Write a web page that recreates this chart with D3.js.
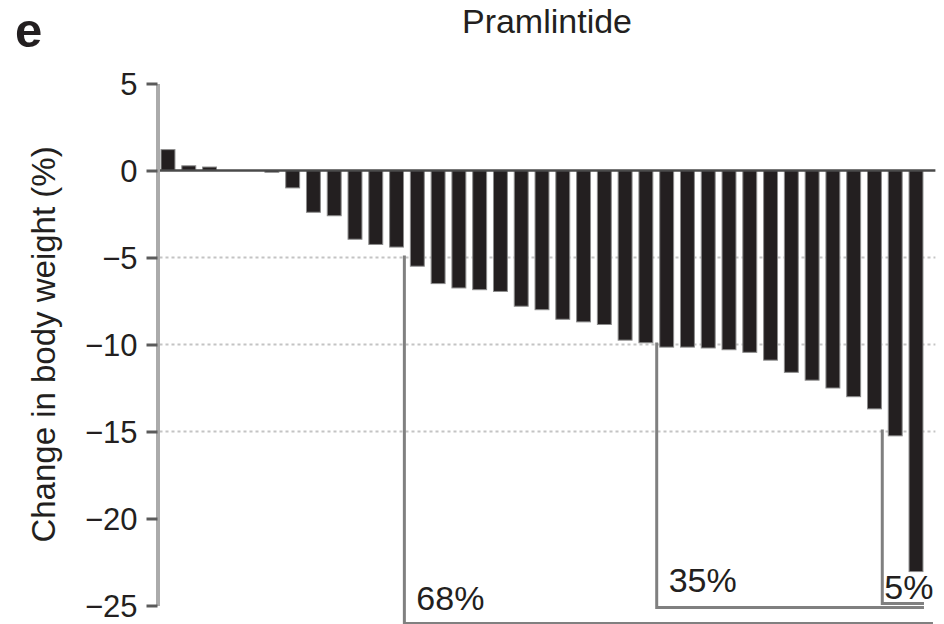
<!DOCTYPE html>
<html>
<head>
<meta charset="utf-8">
<script src="https://cdn.jsdelivr.net/npm/d3@7"></script>
<style>
  html, body { margin: 0; padding: 0; background: #fff; }
  svg { display: block; }
  text { font-family: "Liberation Sans", Arial, Helvetica, sans-serif; fill: #231f20; }
</style>
</head>
<body>
<svg id="chart" width="944" height="624"></svg>
<script>
// Per-patient change in body weight (%), sorted from gain to largest loss
const patients = d3.range(1, 38).map(i => "P" + i);
const weightChange = [
  1.2, 0.27, 0.2, 0, 0, -0.1, -1.0, -2.4, -2.6, -3.95, -4.25, -4.4,
  -5.5, -6.5, -6.75, -6.85, -6.95, -7.8, -8.0, -8.55, -8.7, -8.85,
  -9.75, -9.9, -10.15, -10.15, -10.2, -10.3, -10.45, -10.9, -11.6,
  -12.05, -12.5, -13.0, -13.7, -15.25, -23.05
];
const yTicks = [5, 0, -5, -10, -15, -20, -25];
const gridLevels = [-5, -10, -15];
const thresholds = [-5, -10, -15];

const chartTitle = "Pramlintide";
const panelLetter = "e";
const yTitle = "Change in body weight (%)";

const svg = d3.select("#chart");
const ink = "#231f20";

const x = d3.scaleBand()
  .domain(patients)
  .range([157.6, 926.4])
  .paddingInner(0.33)
  .paddingOuter(0.165);

const y = d3.scaleLinear().domain([-25, 5]).range([605.5, 83.5]);

const axisX = 157.5;
const rightEnd = x.range()[1] + 9;

// dotted reference lines
svg.append("g")
  .selectAll("line")
  .data(gridLevels)
  .join("line")
  .attr("x1", axisX + 2).attr("x2", rightEnd)
  .attr("y1", d => y(d)).attr("y2", d => y(d))
  .attr("stroke", "#c4c4c4")
  .attr("stroke-width", 2)
  .attr("stroke-dasharray", "3 3");

// bars
svg.append("g")
  .selectAll("rect")
  .data(weightChange)
  .join("rect")
  .attr("x", (d, i) => x(patients[i]))
  .attr("width", x.bandwidth())
  .attr("y", d => y(Math.max(0, d)))
  .attr("height", d => Math.abs(y(d) - y(0)))
  .attr("fill", ink)
  .attr("stroke", "#8c8c8c")
  .attr("stroke-width", 1);

// zero line
svg.append("line")
  .attr("x1", axisX).attr("x2", rightEnd)
  .attr("y1", y(0)).attr("y2", y(0))
  .attr("stroke", "#4a4a4a")
  .attr("stroke-width", 2.5);

// y axis
const yAxis = d3.axisLeft(y)
  .tickValues(yTicks)
  .tickSize(11)
  .tickSizeOuter(0)
  .tickPadding(9)
  .tickFormat(d => d < 0 ? "\u2212" + Math.abs(d) : String(d));

const gAxis = svg.append("g")
  .attr("transform", `translate(${axisX},0)`)
  .call(yAxis);
gAxis.select(".domain")
  .attr("stroke", "#ababab")
  .attr("stroke-width", 4);
gAxis.selectAll(".tick line")
  .attr("stroke", "#5a5a5a")
  .attr("stroke-width", 3);
gAxis.selectAll(".tick text")
  .attr("font-size", 31)
  .attr("fill", ink)
  .attr("dy", "0.36em")
  .style("font-family", "'Liberation Sans', Arial, Helvetica, sans-serif");

// threshold brackets with share of patients reaching each level
const n = weightChange.length;
const bracketLayout = [
  { inset: 6, drop: 18, labelDx: 12, labelDy: -14, stretch: 9 },
  { inset: 3, drop: 2,  labelDx: 12, labelDy: -16, stretch: 0 },
  { inset: 6, drop: -2, labelDx: 2,  labelDy: -5,  stretch: 0 }
];
const lastRight = x(patients[n - 1]) + x.bandwidth() + 1;

thresholds.forEach((t, k) => {
  const first = weightChange.findIndex(v => v <= t);
  const count = weightChange.filter(v => v <= t).length;
  const share = Math.round(count / n * 100) + "%";
  const L = bracketLayout[k];
  const bx = x(patients[first]) - L.inset;
  const by = y(-25) + L.drop;
  svg.append("path")
    .attr("d", `M${bx},${y(t) - 2}V${by}H${lastRight + L.stretch}`)
    .attr("fill", "none")
    .attr("stroke", "#808080")
    .attr("stroke-width", 3);
  svg.append("text")
    .attr("x", bx + L.labelDx)
    .attr("y", by + L.labelDy)
    .attr("font-size", 34)
    .text(share);
});

// titles
svg.append("text")
  .attr("x", 547).attr("y", 33)
  .attr("text-anchor", "middle")
  .attr("font-size", 34)
  .text(chartTitle);

svg.append("text")
  .attr("x", 15).attr("y", 47)
  .attr("font-size", 49)
  .attr("font-weight", "bold")
  .text(panelLetter);

svg.append("text")
  .attr("transform", `translate(55,${(y(5) + y(-25)) / 2}) rotate(-90)`)
  .attr("text-anchor", "middle")
  .attr("font-size", 33)
  .text(yTitle);
</script>
</body>
</html>
